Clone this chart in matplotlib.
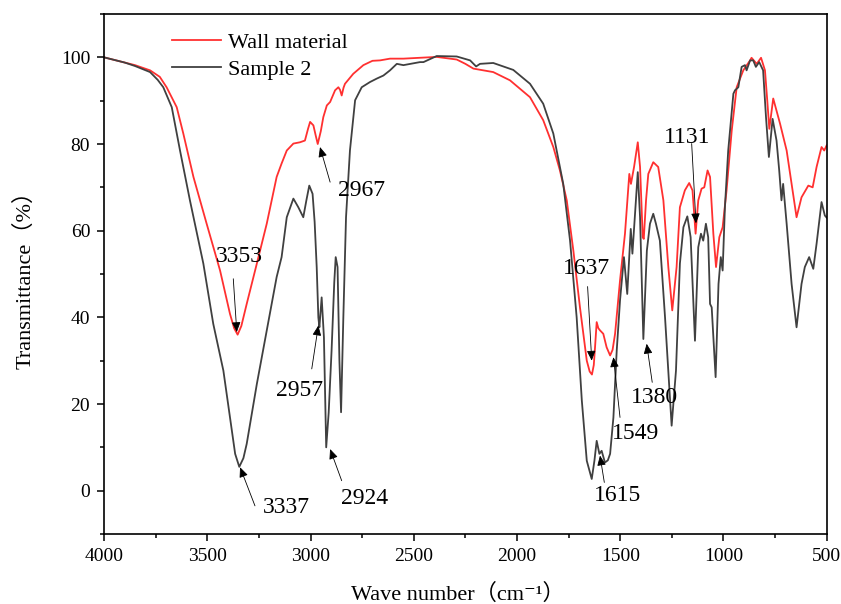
import matplotlib
matplotlib.use("Agg")
import matplotlib.pyplot as plt
from matplotlib.ticker import MultipleLocator

plt.rcParams['font.family'] = ['Liberation Serif', 'Noto Sans CJK SC', 'DejaVu Serif']

# FTIR spectra (wavenumber cm-1, transmittance %)
wn_wall = [4000, 3900, 3850, 3777, 3730, 3697, 3648, 3616, 3567, 3503, 3438, 3390, 3370, 3353,
           3335, 3309, 3260, 3212, 3164, 3140, 3115, 3083, 3051, 3027, 3012, 3002,
           2986, 2975, 2965, 2950, 2938, 2921, 2905, 2881, 2865, 2857, 2849, 2840,
           2833, 2793, 2744, 2700, 2663, 2615, 2550, 2470, 2389, 2292, 2250, 2211,
           2115, 2034, 1937, 1873, 1824, 1792, 1759, 1727, 1695, 1662, 1648, 1637,
           1628, 1622, 1614, 1606, 1598, 1582, 1566, 1549, 1537, 1525, 1501, 1477,
           1456, 1448, 1433, 1415, 1404, 1391, 1386, 1375, 1364, 1340, 1316, 1291,
           1267, 1248, 1227, 1211, 1187, 1166, 1150, 1135, 1122, 1106, 1093, 1077,
           1065, 1049, 1036, 1020, 1004, 985, 960, 936, 904, 871, 864, 839, 818,
           799, 788, 778, 759, 726, 694, 670, 646, 622, 589, 568, 549, 525, 512, 500]
t_wall = [100.0, 98.8, 98.2, 97.0, 95.5, 93.1, 88.5, 82.4, 72.4, 61.6, 50.8, 40.8, 37.5, 36.0,
          38.0, 43.1, 52.4, 61.6, 72.4, 75.5, 78.5, 80.1, 80.4, 80.8, 83.5, 85.1,
          84.3, 82.0, 80.0, 83.0, 86.2, 88.9, 89.7, 92.4, 93.1, 92.5, 91.2, 93.0,
          93.9, 96.2, 98.2, 99.2, 99.3, 99.7, 99.7, 99.9, 100.1, 99.5, 98.5, 97.4,
          96.6, 94.7, 90.8, 85.5, 79.3, 73.9, 67.0, 55.4, 42.3, 30.0, 27.5, 26.8,
          29.0, 33.1, 38.9, 37.5, 37.0, 36.2, 33.1, 31.2, 32.5, 36.2, 48.5, 59.3,
          73.1, 70.8, 74.7, 80.4, 74.7, 58.5, 58.1, 67.0, 73.1, 75.8, 74.7, 67.0,
          51.6, 41.6, 51.6, 65.4, 69.3, 71.0, 69.3, 59.3, 67.0, 69.7, 70.0, 73.9,
          72.4, 59.3, 51.6, 58.5, 60.8, 69.3, 83.1, 93.1, 97.0, 99.3, 99.9, 98.5, 99.9,
          97.0, 90.1, 83.5, 90.5, 84.7, 78.5, 70.8, 63.1, 67.7, 70.4, 70.0, 74.7, 79.3, 78.5, 79.7]

wn_s2 = [4000, 3900, 3850, 3777, 3740, 3713, 3672, 3632, 3584, 3519, 3471, 3422, 3390, 3365,
         3345, 3325, 3309, 3260, 3212, 3164, 3140, 3115, 3083, 3059, 3035, 3020,
         3006, 2990, 2980, 2970, 2962, 2957, 2946, 2935, 2924, 2912, 2898, 2885,
         2878, 2869, 2860, 2852, 2841, 2828, 2809, 2784, 2752, 2712, 2679, 2647,
         2615, 2582, 2550, 2470, 2453, 2389, 2292, 2227, 2198, 2179, 2115, 2018,
         1937, 1873, 1824, 1776, 1743, 1711, 1686, 1662, 1638, 1625, 1614, 1601,
         1590, 1574, 1560, 1549, 1533, 1517, 1501, 1482, 1466, 1449, 1441, 1415,
         1404, 1388, 1371, 1356, 1340, 1327, 1308, 1283, 1251, 1230, 1211, 1194,
         1175, 1159, 1138, 1122, 1109, 1098, 1085, 1074, 1065, 1057, 1038, 1024,
         1013, 1004, 993, 977, 952, 944, 928, 912, 896, 888, 871, 856, 843, 827,
         808, 794, 780, 762, 743, 730, 719, 711, 694, 670, 646, 622, 606, 585,
         565, 549, 525, 509, 500]
t_s2 = [100.0, 98.8, 98.0, 96.6, 94.8, 93.1, 88.5, 78.5, 67.0, 52.4, 38.5, 27.7, 16.9, 8.5,
        5.5, 7.5, 10.8, 24.6, 37.0, 49.3, 53.9, 63.1, 67.4, 65.4, 63.1, 67.0,
        70.4, 68.5, 62.0, 51.6, 40.0, 37.7, 44.6, 35.4, 10.0, 18.0, 32.3, 48.0,
        53.9, 51.6, 30.0, 18.1, 40.0, 63.1, 78.5, 90.1, 93.1, 94.3, 95.1, 95.8,
        97.0, 98.5, 98.2, 98.9, 98.9, 100.3, 100.2, 99.3, 97.9, 98.5, 98.7, 97.1,
        93.9, 89.3, 82.4, 70.8, 57.7, 40.0, 20.8, 6.9, 2.7, 6.9, 11.5, 8.5,
        9.2, 6.5, 7.0, 8.5, 16.9, 32.3, 43.9, 53.9, 45.4, 60.4, 54.7, 73.5,
        63.1, 35.0, 55.4, 61.6, 63.9, 61.6, 57.7, 40.0, 15.0, 27.7, 52.4, 60.8,
        63.3, 58.5, 34.6, 56.2, 59.3, 57.7, 61.6, 58.5, 43.1, 42.3, 26.2, 47.7,
        53.9, 50.8, 65.4, 78.5, 91.6, 92.4, 93.1, 97.8, 98.2, 97.0, 99.3, 99.3, 97.8, 98.9,
        97.0, 86.2, 77.0, 85.8, 80.8, 73.9, 67.0, 70.8, 61.6, 47.7, 37.7, 47.7, 51.6, 53.9,
        51.2, 57.0, 66.6, 63.5, 63.0]

# peak labels: text, text position, arrow tail, arrow tip
peaks = [
    ("3353", (3346, 54.0), (3374, 48.9), (3357, 36.6)),
    ("3337", (3115, -3.9), (3269, -3.5), (3341, 5.4)),
    ("2957", (3051, 23.1), (2994, 28.1), (2962, 38.1)),
    ("2924", (2736, -1.9), (2849, 2.3), (2905, 9.6)),
    ("2967", (2752, 69.3), (2905, 71.2), (2954, 79.3)),
    ("1637", (1663, 51.2), (1658, 47.1), (1638, 30.0)),
    ("1615", (1512, -1.2), (1577, 1.9), (1598, 8.1)),
    ("1549", (1428, 13.1), (1501, 16.9), (1533, 30.8)),
    ("1380", (1332, 21.5), (1345, 25.0), (1372, 33.9)),
    ("1131", (1178, 81.6), (1154, 80.1), (1133, 61.7)),
]

fig = plt.figure(figsize=(8.41, 6.04), dpi=100)
ax = fig.add_axes([0.1237, 0.1159, 0.8593, 0.8609])

ax.plot(wn_wall, t_wall, color='#ff3030', lw=1.3, label='Wall material')
ax.plot(wn_s2, t_s2, color='#404040', lw=1.3, label='Sample 2')

for lab, txy, tail, tip in peaks:
    ax.text(txy[0], txy[1], lab, ha='center', va='center', fontsize=17)
    ax.annotate('', xy=tip, xytext=tail,
                arrowprops=dict(arrowstyle='-|>,head_length=0.5,head_width=0.22',
                                color='k', lw=0.6, shrinkA=0, shrinkB=0,
                                mutation_scale=12))

ax.set_xlim(4000, 500)
ax.set_ylim(-10, 110)
ax.xaxis.set_major_locator(MultipleLocator(500))
ax.xaxis.set_minor_locator(MultipleLocator(250))
ax.yaxis.set_major_locator(MultipleLocator(20))
ax.yaxis.set_minor_locator(MultipleLocator(10))
ax.tick_params(which='major', direction='out', length=5, width=1.1, labelsize=14, pad=5)
ax.tick_params(which='minor', direction='out', length=3, width=1.1)
for s in ax.spines.values():
    s.set_linewidth(1.2)

ax.set_xlabel('Wave number（cm⁻¹）', fontsize=16)
ax.set_ylabel('Transmittance（%）', fontsize=16)
ax.xaxis.set_label_coords(0.49, -0.095)
ax.yaxis.set_label_coords(-0.095, 0.5)

ax.legend(loc='upper left', bbox_to_anchor=(0.094, 0.965), frameon=False,
          fontsize=16, handlelength=2.2, handletextpad=0.3, labelspacing=0.3,
          borderpad=0, borderaxespad=0)

fig.savefig('out.png', dpi=100)
